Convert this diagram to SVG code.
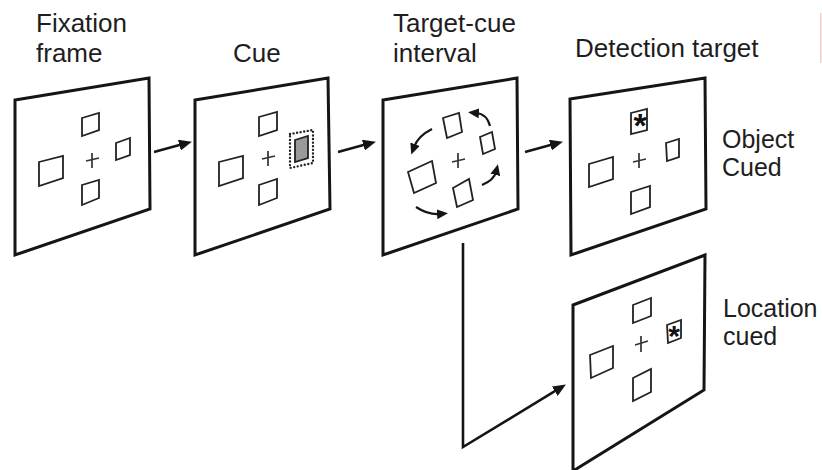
<svg xmlns="http://www.w3.org/2000/svg" width="822" height="470" viewBox="0 0 822 470">
  <style>
    .lbl { font-family: "Liberation Sans", Arial, sans-serif; font-size: 26px; fill: #1e1e1e; }
    .side { font-size: 25px; }
    .panel { fill: #fff; stroke: #151515; stroke-width: 3; stroke-linejoin: miter; }
    .box { fill: none; stroke: #222; stroke-width: 1.8; }
    .fix { stroke: #333; stroke-width: 1.7; fill: none; }
    .link { fill: none; stroke: #151515; stroke-width: 2.6; }
    .turn { fill: none; stroke: #151515; stroke-width: 2.2; }
    .star { font-family: "Liberation Sans", Arial, sans-serif; font-weight: bold; fill: #111; text-anchor: middle; }
  </style>
  <defs>
    <marker id="head" viewBox="0 0 13 11" refX="2" refY="5.5" markerWidth="13" markerHeight="11" markerUnits="userSpaceOnUse" orient="auto">
      <path d="M0,0 L13,5.5 L0,11 Z" fill="#151515"/>
    </marker>
    <marker id="headSmall" viewBox="0 0 11 10" refX="3" refY="5" markerWidth="11" markerHeight="10" markerUnits="userSpaceOnUse" orient="auto">
      <path d="M0,0 L11,5 L0,10 Z" fill="#151515"/>
    </marker>
  </defs>

  <rect width="822" height="470" fill="#fff"/>
  <rect x="820" y="13" width="1.5" height="50" fill="#f2cccc"/>

  <!-- column headings -->
  <g id="headings">
    <text class="lbl" x="36" y="32">Fixation</text>
    <text class="lbl" x="36" y="62">frame</text>
    <text class="lbl" x="233" y="62">Cue</text>
    <text class="lbl" x="393" y="32">Target-cue</text>
    <text class="lbl" x="393" y="62">interval</text>
    <text class="lbl" x="575" y="57">Detection target</text>
  </g>

  <!-- fixation frame -->
  <g id="fixation-frame">
    <polygon class="panel" points="15,100 149,78 150,209 15,255"/>
    <polygon class="box" points="82,118 99,113 99,130 82,136"/>
    <polygon class="box" points="39,162 63,156 63,178 39,186"/>
    <polygon class="box" points="116,143 130,138 130,155 116,160"/>
    <polygon class="box" points="82,185 99,180 99,198 82,205"/>
    <path class="fix" d="M86,161 L99,158 M92,153 L92,168"/>
  </g>

  <!-- cue frame -->
  <g id="cue">
    <polygon class="panel" points="195,100 328,78 330,209 195,255"/>
    <polygon class="box" points="259,117 277,112 277,130 259,136"/>
    <polygon class="box" points="219,162 243,156 243,178 219,186"/>
    <polygon class="box" points="259,185 277,179 277,198 259,205"/>
    <polygon points="295,140 308,136 308,158 295,162" fill="#9a9a9a" stroke="#222" stroke-width="1.8"/>
    <polygon points="290,134 313,130 313,163 290,168" fill="none" stroke="#222" stroke-width="2.4" stroke-linecap="round" stroke-dasharray="0 3.6"/>
    <path class="fix" d="M262,159 L275,156 M268,151 L268,166"/>
  </g>

  <!-- target-cue interval frame: placeholders rotating -->
  <g id="target-cue-interval">
    <polygon class="panel" points="383,100 517,78 518,209 383,255"/>
    <polygon class="box" points="443,118 459,113 462,132 447,138"/>
    <polygon class="box" points="480,137 492,132 495,149 483,154"/>
    <polygon class="box" points="408,172 432,161 436,183 414,193"/>
    <polygon class="box" points="453,188 469,179 473,200 457,207"/>
    <path class="fix" d="M452,162 L465,159 M458,153 L458,168"/>
    <path class="turn" d="M432,129 Q418,136 414,147" marker-end="url(#headSmall)"/>
    <path class="turn" d="M490,126 Q487,114 476,113" marker-end="url(#headSmall)"/>
    <path class="turn" d="M482,185 Q494,180 496,172" marker-end="url(#headSmall)"/>
    <path class="turn" d="M416,207 Q428,215 440,214" marker-end="url(#headSmall)"/>
  </g>

  <!-- detection target, object cued -->
  <g id="object-cued">
    <polygon class="panel" points="570,99 705,78 706,209 571,255"/>
    <polygon class="box" points="631,113 647,109 647,130 631,134"/>
    <text class="star" x="640" y="137" font-size="34">*</text>
    <polygon class="box" points="666,143 679,139 679,157 667,161"/>
    <polygon class="box" points="589,164 613,157 613,179 589,187"/>
    <polygon class="box" points="631,192 650,186 650,207 631,214"/>
    <path class="fix" d="M633,162 L646,159 M639,153 L639,168"/>
    <text class="lbl side" x="722" y="148">Object</text>
    <text class="lbl side" x="722" y="176">Cued</text>
  </g>

  <!-- detection target, location cued -->
  <g id="location-cued">
    <polygon class="panel" points="573,305 705,255 704,390 573,471"/>
    <polygon class="box" points="633,305 651,298 651,316 633,323"/>
    <polygon class="box" points="667,325 681,320 681,338 668,343"/>
    <text class="star" x="674" y="346" font-size="30">*</text>
    <polygon class="box" points="590,355 613,346 613,368 591,378"/>
    <polygon class="box" points="633,378 651,369 651,392 633,401"/>
    <path class="fix" d="M635,345 L648,341 M641,336 L641,352"/>
    <text class="lbl side" x="723" y="317">Location</text>
    <text class="lbl side" x="723" y="345">cued</text>
  </g>

  <!-- sequence connectors -->
  <g id="connectors">
    <path class="link" d="M154,152 L181.3,144.6" marker-end="url(#head)"/>
    <path class="link" d="M338,152 L365.3,144.6" marker-end="url(#head)"/>
    <path class="link" d="M525,152 L552.3,144.6" marker-end="url(#head)"/>
    <path class="link" d="M463,243 L463,447 L556.5,390.2" marker-end="url(#head)"/>
  </g>
</svg>
